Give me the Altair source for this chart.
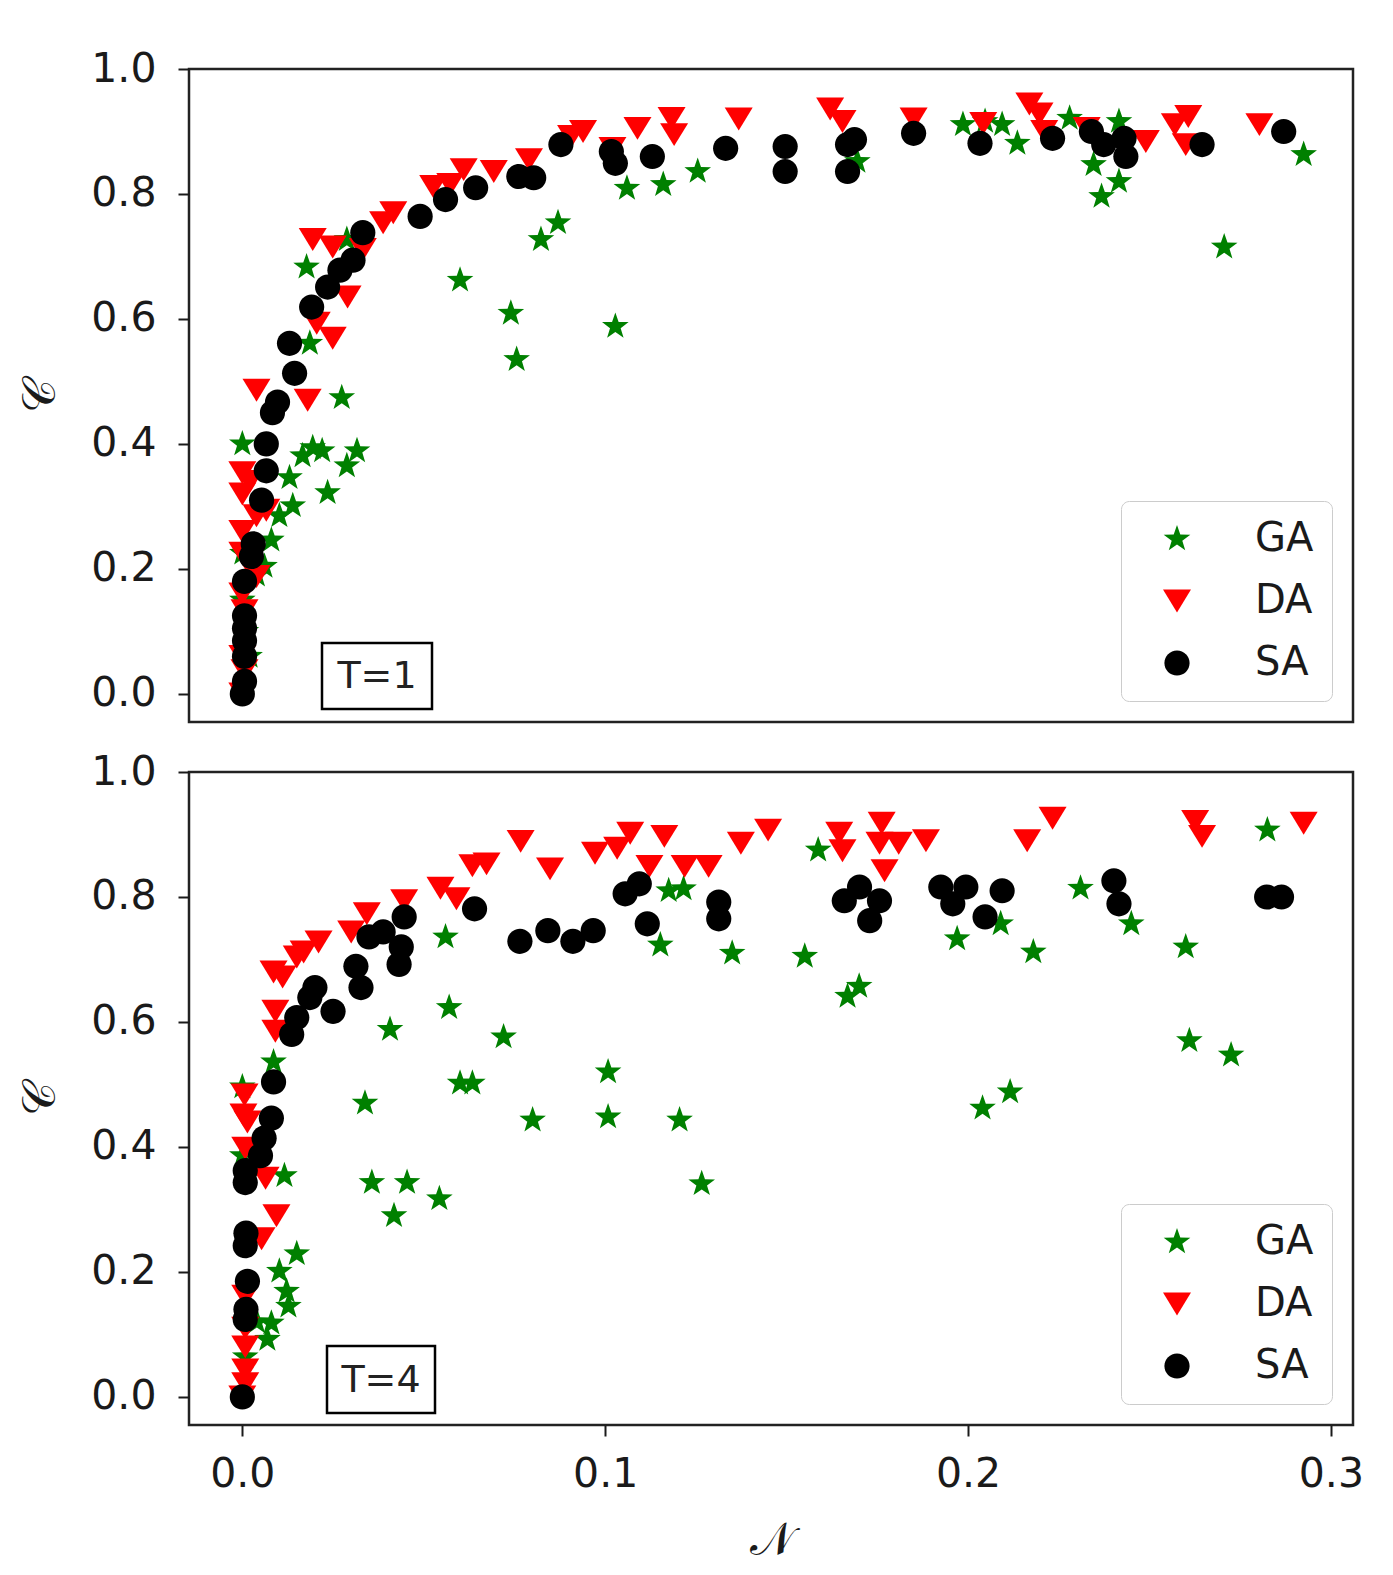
import math
import altair as alt
import pandas as pd

# ---------------- data ----------------
algs = ["GA", "DA", "SA"]
colors = ["#008000", "#ff0000", "#000000"]

# Top panel (T=1)
t1_ga_x = [0.0, 0.0, 0.0, 0.001, 0.002, 0.004, 0.0061, 0.008, 0.0102, 0.0139, 0.013, 0.0166, 0.0194, 0.022,
           0.0235, 0.0288, 0.0316, 0.0274, 0.0186, 0.0177, 0.0288, 0.060, 0.074, 0.0756, 0.0823, 0.087,
           0.1028, 0.106, 0.116, 0.1255, 0.1695, 0.1986, 0.2047, 0.2094, 0.2136, 0.228, 0.2346, 0.2416,
           0.2368, 0.2416, 0.2706, 0.2925]
t1_ga_y = [0.40, 0.225, 0.15, 0.10, 0.06, 0.19, 0.204, 0.246, 0.285, 0.301, 0.346, 0.381, 0.394, 0.389,
           0.322, 0.365, 0.389, 0.474, 0.561, 0.683, 0.727, 0.662, 0.609, 0.535, 0.727, 0.754,
           0.588, 0.809, 0.815, 0.836, 0.852, 0.911, 0.916, 0.911, 0.881, 0.921, 0.847, 0.82,
           0.796, 0.916, 0.715, 0.863]
t1_da_x = [0.0, 0.0006, 0.0, 0.0006, 0.0, 0.0039, 0.0, 0.0, 0.0039, 0.0066, 0.0, 0.0, 0.002, 0.0039, 0.018,
           0.0194, 0.0249, 0.0332, 0.029, 0.0205, 0.0249, 0.0388, 0.0416, 0.0526, 0.0573, 0.061, 0.0693,
           0.079, 0.0906, 0.0939, 0.102, 0.1089, 0.1183, 0.119, 0.1368, 0.162, 0.1654, 0.185, 0.2042,
           0.2169, 0.2197, 0.221, 0.2327, 0.249, 0.257, 0.2607, 0.26, 0.2803]
t1_da_y = [0.0, 0.037, 0.06, 0.133, 0.16, 0.188, 0.225, 0.26, 0.285, 0.294, 0.32, 0.354, 0.34, 0.486, 0.47,
           0.727, 0.715, 0.711, 0.635, 0.593, 0.569, 0.754, 0.77, 0.812, 0.815, 0.839, 0.836,
           0.855, 0.892, 0.9, 0.873, 0.905, 0.921, 0.895, 0.92, 0.936, 0.916, 0.92, 0.913,
           0.944, 0.928, 0.90, 0.905, 0.884, 0.911, 0.924, 0.879, 0.911]
t1_sa_x = [0.0, 0.0006, 0.0006, 0.0006, 0.0006, 0.0006, 0.0006, 0.0025, 0.003, 0.0053, 0.0066, 0.0066,
           0.0083, 0.0097, 0.0144, 0.013, 0.0191, 0.0235, 0.0269, 0.0305, 0.0332, 0.049, 0.056, 0.0643,
           0.0762, 0.0803, 0.0878, 0.1017, 0.1028, 0.113, 0.1332, 0.1496, 0.1496, 0.1668, 0.1687, 0.1668,
           0.185, 0.2033, 0.2233, 0.234, 0.2374, 0.243, 0.2435, 0.2645, 0.287]
t1_sa_y = [0.0, 0.02, 0.06, 0.085, 0.105, 0.125, 0.18, 0.22, 0.24, 0.31, 0.357, 0.40,
           0.45, 0.467, 0.513, 0.561, 0.619, 0.651, 0.678, 0.694, 0.738, 0.764, 0.791, 0.81,
           0.828, 0.826, 0.879, 0.868, 0.849, 0.86, 0.873, 0.876, 0.836, 0.879, 0.887, 0.836,
           0.897, 0.881, 0.889, 0.90, 0.879, 0.889, 0.86, 0.879, 0.90]

# Bottom panel (T=4)
t4_ga_x = [0.0008, 0.0069, 0.008, 0.0127, 0.0122, 0.0102, 0.015, 0.0116, 0.0, 0.0, 0.0086, 0.004,
           0.0338, 0.0357, 0.0454, 0.0543, 0.0418, 0.0407, 0.056, 0.057, 0.06, 0.0634, 0.072, 0.080,
           0.1008, 0.1008, 0.1205, 0.1266, 0.1175, 0.1216, 0.1152, 0.135, 0.155, 0.1587, 0.1668, 0.170,
           0.197, 0.209, 0.218, 0.204, 0.2116, 0.231, 0.245, 0.26, 0.261, 0.2725, 0.2825]
t4_ga_y = [0.064, 0.092, 0.118, 0.145, 0.169, 0.201, 0.229, 0.354, 0.386, 0.496, 0.536, 0.12,
           0.47, 0.343, 0.343, 0.317, 0.29, 0.588, 0.736, 0.623, 0.502, 0.502, 0.576, 0.443,
           0.52, 0.448, 0.443, 0.341, 0.81, 0.813, 0.723, 0.71, 0.705, 0.875, 0.641, 0.657,
           0.733, 0.757, 0.712, 0.462, 0.488, 0.814, 0.757, 0.72, 0.57, 0.547, 0.907]
t4_da_x = [0.0, 0.0008, 0.0008, 0.0008, 0.0008, 0.0008, 0.0053, 0.0094, 0.0064, 0.0008, 0.0014, 0.0003,
           0.0006, 0.0091, 0.0091, 0.0111, 0.0086, 0.015, 0.0169, 0.021, 0.030, 0.0343, 0.0446, 0.0546,
           0.059, 0.0634, 0.0673, 0.0767, 0.0848, 0.0972, 0.1033, 0.1069, 0.1122, 0.1163, 0.1219,
           0.1285, 0.1374, 0.1449, 0.1645, 0.1654, 0.1762, 0.1756, 0.177, 0.1809, 0.1884, 0.2163,
           0.2233, 0.2626, 0.2645, 0.2925]
t4_da_y = [0.0, 0.021, 0.043, 0.08, 0.11, 0.161, 0.253, 0.29, 0.35, 0.398, 0.44, 0.451,
           0.483, 0.617, 0.585, 0.672, 0.68, 0.704, 0.712, 0.728, 0.744, 0.773, 0.794, 0.814,
           0.797, 0.85, 0.853, 0.889, 0.845, 0.87, 0.878, 0.902, 0.849, 0.897, 0.849,
           0.849, 0.886, 0.907, 0.902, 0.874, 0.918, 0.886, 0.842, 0.886, 0.89, 0.89,
           0.926, 0.921, 0.897, 0.918]
t4_sa_x = [0.0, 0.0008, 0.001, 0.0014, 0.0008, 0.001, 0.0008, 0.0008, 0.005, 0.006, 0.008, 0.0086,
           0.0136, 0.015, 0.0186, 0.02, 0.025, 0.0313, 0.0327, 0.0349, 0.0388, 0.0432, 0.0438, 0.0446,
           0.064, 0.0765, 0.0842, 0.0911, 0.0967, 0.1055, 0.1094, 0.1116, 0.1313, 0.1313, 0.1659,
           0.1701, 0.1729, 0.1756, 0.1925, 0.1994, 0.1958, 0.2047, 0.2094, 0.2402, 0.2416, 0.2823,
           0.2864]
t4_sa_y = [0.0, 0.124, 0.14, 0.185, 0.242, 0.262, 0.343, 0.362, 0.386, 0.414, 0.446, 0.504,
           0.58, 0.607, 0.639, 0.655, 0.617, 0.689, 0.655, 0.736, 0.744, 0.692, 0.72, 0.768,
           0.781, 0.729, 0.746, 0.729, 0.746, 0.805, 0.821, 0.757, 0.792, 0.765, 0.794,
           0.816, 0.762, 0.794, 0.816, 0.816, 0.789, 0.768, 0.81, 0.826, 0.789, 0.8,
           0.8]

x_ticks = [0.0, 0.1, 0.2, 0.3]
y_ticks = [0.0, 0.2, 0.4, 0.6, 0.8, 1.0]
panel_labels = ["T=1", "T=4"]

# ---------------- marker shapes (unit square paths) ----------------
pts = []
for k in range(10):
    ang = math.radians(-90 + 36 * k)
    r = 1.0 if k % 2 == 0 else 0.4
    pts.append(f"{r * math.cos(ang):.3f},{r * math.sin(ang):.3f}")
STAR = "M" + "L".join(pts) + "Z"
TRI_DOWN = "M-1,-0.82L1,-0.82L0,0.82Z"
CIRCLE = "M0.9,0A0.9,0.9 0 1,1 -0.9,0A0.9,0.9 0 1,1 0.9,0Z"
shapes = [STAR, TRI_DOWN, CIRCLE]

FONT = "DejaVu Sans"
TXT = "#1a1a1a"
W, H = 1164, 653


def make_df(gx, gy, dx, dy, sx, sy):
    rows = []
    for name, xs, ys in (("GA", gx, gy), ("DA", dx, dy), ("SA", sx, sy)):
        for a, b in zip(xs, ys):
            rows.append({"x": a, "y": b, "alg": name})
    return pd.DataFrame(rows)


def panel(df, label, bottom, box):
    if bottom:
        xaxis = alt.Axis(values=x_ticks, format=".1f", title="𝒩", labelFontSize=41, labelFont=FONT,
                         labelColor=TXT, tickSize=11, tickWidth=2, tickColor=TXT, labelPadding=18,
                         domain=False, grid=False, titleFontSize=46, titleFont=FONT, titleColor=TXT,
                         titleFontWeight="normal", titlePadding=24)
    else:
        xaxis = None
    pts_layer = alt.Chart(df).mark_point(filled=True, opacity=1, size=784, strokeWidth=0).encode(
        x=alt.X("x:Q", scale=alt.Scale(domain=[-0.0147, 0.3061], nice=False, zero=False), axis=xaxis),
        y=alt.Y("y:Q", scale=alt.Scale(domain=[-0.045, 1.0], nice=False, zero=False),
                axis=alt.Axis(values=y_ticks, format=".1f", title="𝒞", labelFontSize=41, labelFont=FONT,
                              labelColor=TXT, tickSize=11, tickWidth=2, tickColor=TXT, labelPadding=22,
                              domain=False, grid=False, titleFontSize=46, titleFont=FONT,
                              titleColor=TXT, titleFontWeight="normal", titlePadding=26)),
        color=alt.Color("alg:N", scale=alt.Scale(domain=algs, range=colors),
                        legend=alt.Legend(title=None, orient="bottom-right", offset=21)),
        shape=alt.Shape("alg:N", scale=alt.Scale(domain=algs, range=shapes),
                        legend=alt.Legend(title=None, orient="bottom-right", offset=21)),
    )
    lab = pd.DataFrame({"t": [label]})
    x0, x1, y0, y1 = box
    rect = alt.Chart(lab).mark_rect(fill="white", stroke="black", strokeWidth=2.5).encode(
        x=alt.value(x0), x2=alt.value(x1), y=alt.value(y0), y2=alt.value(y1))
    txt = alt.Chart(lab).mark_text(fontSize=38, font=FONT, color="#222", baseline="middle",
                                   align="center").encode(
        x=alt.value((x0 + x1) / 2), y=alt.value((y0 + y1) / 2 + 1), text="t:N")
    return alt.layer(pts_layer, rect, txt).properties(width=W, height=H)


top_df = make_df(t1_ga_x, t1_ga_y, t1_da_x, t1_da_y, t1_sa_x, t1_sa_y)
bot_df = make_df(t4_ga_x, t4_ga_y, t4_da_x, t4_da_y, t4_sa_x, t4_sa_y)

top = panel(top_df, panel_labels[0], False, (133, 243, 574, 640))
bot = panel(bot_df, panel_labels[1], True, (138, 246, 574, 641))

chart = alt.vconcat(top, bot, spacing=25).resolve_scale(
    color="independent", shape="independent"
).resolve_legend(
    color="independent", shape="independent"
).configure_view(
    stroke="#222", strokeWidth=2.5
).configure_legend(
    padding=18, rowPadding=22, symbolOffset=18, labelOffset=58, labelFontSize=40, labelFont=FONT,
    labelColor=TXT, fillColor="white", strokeColor="#cccccc", cornerRadius=8, symbolSize=784,
    symbolStrokeWidth=0, labelBaseline="middle"
).properties(
    padding={"left": 8, "top": 38, "right": 0, "bottom": 0},
    background="white"
)

chart.save("out.html", embed_options={"renderer": "svg", "actions": False})
